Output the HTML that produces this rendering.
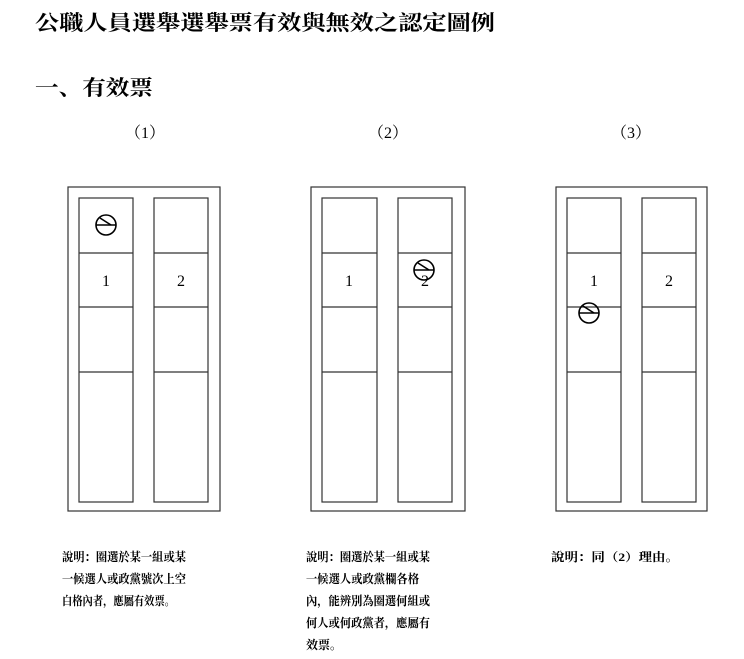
<!DOCTYPE html>
<html><head><meta charset="utf-8"><style>
html,body{margin:0;padding:0;background:#fff;}
svg{display:block;}
.t{font-family:"Liberation Serif","Noto Serif CJK SC","Noto Sans CJK TC",serif;fill:#000;}
</style></head><body>
<svg width="744" height="659" viewBox="0 0 744 659" xmlns="http://www.w3.org/2000/svg">
<defs>
<g id="stamp" fill="none" stroke="#000" stroke-width="1.6">
<circle cx="0" cy="0" r="10"/>
<line x1="-10" y1="0" x2="10" y2="0"/>
<line x1="-6" y1="-7" x2="5" y2="0"/>
</g>
</defs>
<text class="t" x="35" y="30" font-size="21" font-weight="bold" textLength="460" lengthAdjust="spacingAndGlyphs">公職人員選舉選舉票有效與無效之認定圖例</text>
<text class="t" x="35" y="95" font-size="21" font-weight="bold" textLength="118" lengthAdjust="spacingAndGlyphs">一、有效票</text>
<text class="t" x="145" y="138" font-size="16" text-anchor="middle">（1）</text>
<text class="t" x="388" y="138" font-size="16" text-anchor="middle">（2）</text>
<text class="t" x="631" y="138" font-size="16" text-anchor="middle">（3）</text>
<g fill="none" stroke="#333" stroke-width="1.2">
<rect x="68" y="187" width="152" height="324"/>
<rect x="79" y="198" width="54" height="304"/><rect x="154" y="198" width="54" height="304"/>
<path d="M79 253H133M79 307H133M79 372H133M154 253H208M154 307H208M154 372H208"/>
<rect x="311" y="187" width="154" height="324"/>
<rect x="322" y="198" width="55" height="304"/><rect x="398" y="198" width="54" height="304"/>
<path d="M322 253H377M322 307H377M322 372H377M398 253H452M398 307H452M398 372H452"/>
<rect x="556" y="187" width="151" height="324"/>
<rect x="567" y="198" width="54" height="304"/><rect x="642" y="198" width="54" height="304"/>
<path d="M567 253H621M567 307H621M567 372H621M642 253H696M642 307H696M642 372H696"/>
</g>
<g class="t" font-size="16" text-anchor="middle">
<text x="106" y="286">1</text><text x="181" y="286">2</text>
<text x="349" y="286">1</text><text x="425" y="286">2</text>
<text x="594" y="286">1</text><text x="669" y="286">2</text>
</g>
<use href="#stamp" x="106" y="225"/>
<use href="#stamp" x="424" y="270"/>
<use href="#stamp" x="589" y="313"/>
<g class="t" font-size="12" font-weight="bold">
<text x="62" y="561" textLength="124" lengthAdjust="spacingAndGlyphs">說明：圈選於某一組或某</text>
<text x="62" y="583" textLength="124" lengthAdjust="spacingAndGlyphs">一候選人或政黨號次上空</text>
<text x="62" y="605" textLength="113" lengthAdjust="spacingAndGlyphs">白格內者，應屬有效票。</text>
<text x="306" y="561" textLength="124" lengthAdjust="spacingAndGlyphs">說明：圈選於某一組或某</text>
<text x="306" y="583" textLength="113" lengthAdjust="spacingAndGlyphs">一候選人或政黨欄各格</text>
<text x="306" y="605" textLength="124" lengthAdjust="spacingAndGlyphs">內，能辨別為圈選何組或</text>
<text x="306" y="627" textLength="124" lengthAdjust="spacingAndGlyphs">何人或何政黨者，應屬有</text>
<text x="306" y="649" textLength="36" lengthAdjust="spacingAndGlyphs">效票。</text>
<text x="551" y="561" textLength="128" lengthAdjust="spacingAndGlyphs">說明：同（2）理由。</text>
</g>
</svg>
</body></html>
